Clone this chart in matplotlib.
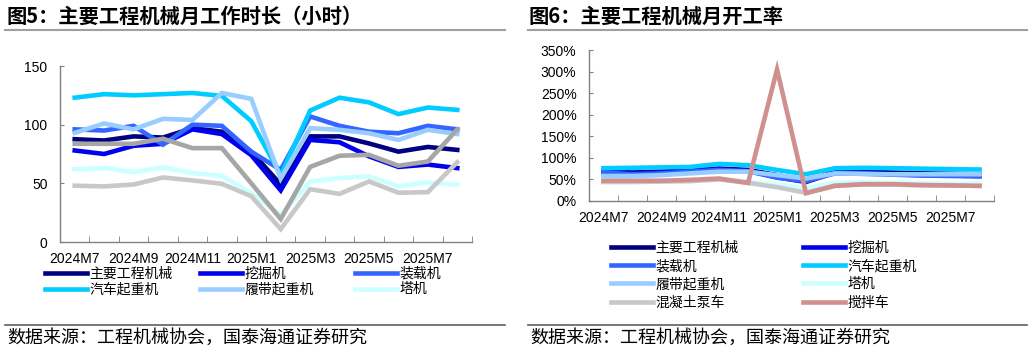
import matplotlib
matplotlib.use("Agg")
import matplotlib.pyplot as plt
from matplotlib.ticker import FuncFormatter, MultipleLocator, FixedLocator

plt.rcParams['font.family'] = ['Liberation Sans', 'Noto Sans CJK SC', 'DejaVu Sans']
CJK = ['Noto Sans CJK SC', 'DejaVu Sans']

# months
months = ['2024M7', '2024M8', '2024M9', '2024M10', '2024M11', '2024M12', '2025M1',
          '2025M2', '2025M3', '2025M4', '2025M5', '2025M6', '2025M7', '2025M8']

names = ['主要工程机械', '挖掘机', '装载机', '汽车起重机', '履带起重机', '塔机', '混凝土泵车', '搅拌车']

# monthly working hours (left chart)
hours_main = [87.6, 86.5, 90, 89, 97, 94, 77, 49, 90, 90, 84, 77, 81, 78.5]
hours_excavator = [78, 75, 82, 83.7, 96, 92, 74, 44, 87, 85, 73, 64, 66, 63]
hours_loader = [96, 95, 99, 83, 100, 99, 77, 61.5, 107, 99, 94, 92.7, 99, 96]
hours_truck_crane = [123, 126, 125, 126, 127, 124.5, 103, 57, 112, 123, 119, 109, 114.6, 112.6]
hours_crawler_crane = [93, 101, 96, 105, 104, 127, 122, 54, 97, 95.6, 92.7, 87, 95.6, 92]
hours_tower_crane = [62, 63, 59.6, 63.5, 58.7, 56.4, 41.7, 23, 51.6, 54.5, 56, 47.4, 50.8, 48.8]
hours_pump = [48, 47.4, 49, 55, 52.5, 49.6, 39, 11, 45, 41, 51.6, 42, 42.5, 68]
hours_mixer = [83.7, 83.7, 83.7, 88, 80, 80, 50, 19.6, 64, 73.5, 74.3, 65, 68.6, 96]

# monthly operating rate, % (right chart)
rate_main = [70, 66, 68, 71, 75, 72, 60, 46, 68, 68, 66, 64, 63, 62]
rate_excavator = [68, 64, 66, 70, 74, 70, 55, 44, 66, 65, 62, 60, 59, 58]
rate_loader = [66, 62, 64, 68, 72, 69, 54, 46, 64, 63, 61, 59, 58, 57]
rate_truck_crane = [76, 77, 78, 79, 86, 83, 72, 62, 76, 77, 76, 75, 74, 73]
rate_crawler_crane = [58, 58, 60, 64, 68, 68, 60, 52, 64, 63, 62, 62, 62, 62]
rate_tower_crane = [46, 46, 46, 48, 52, 45, 38, 30, 42, 43, 42, 41, 40, 40]
rate_pump = [44, 44, 45, 46, 50, 42, 32, 19, 36, 38, 38, 36, 36, 35]
rate_mixer = [47, 47, 47, 49, 52, 42, 305, 18, 35, 39, 39, 37, 36, 35]

colors_left = ['#000080', '#0000ee', '#3366ff', '#00ccff', '#99ccff', '#ccffff', '#c8c8c8', '#a6a6a6']
colors_right = ['#000080', '#0000ee', '#3366ff', '#00ccff', '#99ccff', '#ccffff', '#c8c8c8', '#d09090']

W, H = 1032, 351
fig = plt.figure(figsize=(W / 100, H / 100), dpi=100)


def box(x0, y0, x1, y1):
    return [x0 / W, 1 - y1 / H, (x1 - x0) / W, (y1 - y0) / H]


def style_axis(ax, pad_x, pad_y):
    for s in ['top', 'right']:
        ax.spines[s].set_visible(False)
    for s in ['left', 'bottom']:
        ax.spines[s].set_color('#808080')
        ax.spines[s].set_linewidth(1.0)
    ax.set_xlim(-0.5, len(months) - 0.5)
    ax.xaxis.set_major_locator(FixedLocator(range(0, len(months) - 1, 2)))
    ax.set_xticklabels(months[0:len(months) - 1:2])
    ax.xaxis.set_minor_locator(FixedLocator([i - 0.5 for i in range(len(months) + 1)]))
    ax.tick_params(axis='x', which='major', length=0, pad=pad_x, labelsize=10)
    ax.tick_params(axis='x', which='minor', length=4, direction='in', color='#808080')
    ax.tick_params(axis='y', length=3, direction='in', color='#808080', pad=pad_y, labelsize=10)


# ---- left chart: working hours
ax1 = fig.add_axes(box(60, 66, 472, 242))
x = range(len(months))
left_series = [hours_main, hours_excavator, hours_loader, hours_truck_crane,
               hours_crawler_crane, hours_tower_crane, hours_pump, hours_mixer]
lines1 = []
for vals, c, n in zip(left_series, colors_left, names):
    ln, = ax1.plot(x, vals, color=c, lw=3.3, label=n, solid_joinstyle='miter')
    lines1.append(ln)
ax1.set_ylim(0, 150)
ax1.yaxis.set_major_locator(MultipleLocator(50))
style_axis(ax1, 7, 9)

# legend (only the first six entries are visible in the original)
leg_x = [45, 200, 355]
for col in range(3):
    idx = [col, col + 3]
    fig.legend([lines1[i] for i in idx], [names[i] for i in idx],
               loc='upper left', bbox_to_anchor=(leg_x[col] / W, 1 - 267 / H),
               frameon=False, borderpad=0, borderaxespad=0, handlelength=3.0,
               handletextpad=0.2, labelspacing=0.1, prop={'family': CJK, 'size': 10})

# ---- right chart: operating rate
ax2 = fig.add_axes(box(589, 50, 994, 201))
right_series = [rate_main, rate_excavator, rate_loader, rate_truck_crane,
                rate_crawler_crane, rate_tower_crane, rate_pump, rate_mixer]
lines2 = []
for vals, c, n in zip(right_series, colors_right, names):
    ln, = ax2.plot(x, vals, color=c, lw=3.3, label=n, solid_joinstyle='miter')
    lines2.append(ln)
ax2.set_ylim(0, 350)
ax2.yaxis.set_major_locator(MultipleLocator(50))
ax2.yaxis.set_major_formatter(FuncFormatter(lambda v, p: f'{v:.0f}%'))
style_axis(ax2, 7, 9)

leg_x2 = [611, 803]
for col in range(2):
    idx = [col, col + 2, col + 4, col + 6]
    fig.legend([lines2[i] for i in idx], [names[i] for i in idx],
               loc='upper left', bbox_to_anchor=(leg_x2[col] / W, 1 - 241 / H),
               frameon=False, borderpad=0, borderaxespad=0, handlelength=3.0,
               handletextpad=0.2, labelspacing=0.3, prop={'family': CJK, 'size': 10})

# ---- titles, rules and source notes
fig.text(7 / W, 1 - 16 / H, '图5：主要工程机械月工作时长（小时）', family=CJK, fontsize=14.6,
         fontweight='bold', va='center', ha='left')
fig.text(528 / W, 1 - 16 / H, '图6：主要工程机械月开工率', family=CJK, fontsize=14.6,
         fontweight='bold', va='center', ha='left')
for x0, x1 in [(5, 505), (528, 1027)]:
    fig.add_artist(plt.Line2D([x0 / W, x1 / W], [1 - 30 / H, 1 - 30 / H], color='#a0a0a0', lw=1.5))
    fig.add_artist(plt.Line2D([x0 / W, x1 / W], [1 - 325 / H, 1 - 325 / H], color='#606060', lw=1.2))
    fig.text((x0 + 2) / W, 1 - 338 / H, '数据来源：工程机械协会，国泰海通证券研究', family=CJK,
             fontsize=13, va='center', ha='left')

fig.savefig('out.png', dpi=100, facecolor='white')
